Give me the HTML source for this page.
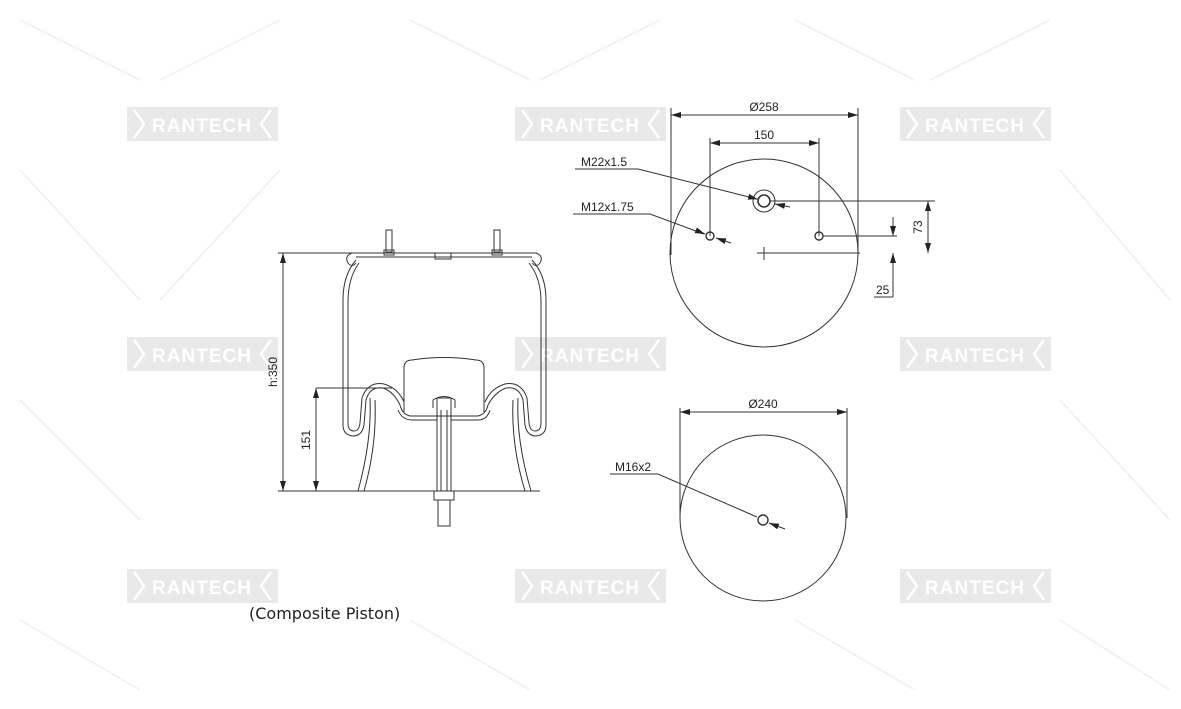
<!DOCTYPE html>
<html><head><style>
html,body{margin:0;padding:0;background:#fff}
svg{display:block}
text{font-family:"Liberation Sans",Arial,sans-serif;fill:#222}
</style></head><body>
<svg width="1181" height="709" viewBox="0 0 1181 709">
<defs>
<g id="wm">
<rect x="0" y="0" width="151" height="34" fill="#e9e9e9"/>
<polyline points="7,3 17,17 7,31" fill="none" stroke="#fff" stroke-width="2.5"/>
<polyline points="144,3 134,17 144,31" fill="none" stroke="#fff" stroke-width="2.5"/>
<text x="75" y="25" text-anchor="middle" font-size="19" font-weight="bold" style="fill:#fff;letter-spacing:1px">RANTECH</text>
</g>
<marker id="a" viewBox="0 0 10 6" refX="10" refY="3" markerWidth="10" markerHeight="6" orient="auto-start-reverse" markerUnits="userSpaceOnUse"><path d="M0,0 L10,3 L0,6z" fill="#222"/></marker>
</defs>
<!-- faint background diagonal lines -->
<g stroke="#f2f2f2" stroke-width="2">
<line x1="20" y1="20" x2="140" y2="80"/><line x1="280" y1="20" x2="160" y2="80"/>
<line x1="410" y1="20" x2="530" y2="80"/><line x1="660" y1="20" x2="540" y2="80"/>
<line x1="795" y1="20" x2="915" y2="80"/><line x1="1050" y1="20" x2="930" y2="80"/>
<line x1="20" y1="170" x2="140" y2="300"/><line x1="280" y1="170" x2="160" y2="300"/>
<line x1="1060" y1="170" x2="1170" y2="300"/><line x1="20" y1="400" x2="140" y2="520"/>
<line x1="1060" y1="400" x2="1170" y2="520"/><line x1="20" y1="620" x2="140" y2="690"/>
<line x1="410" y1="620" x2="530" y2="690"/><line x1="795" y1="620" x2="915" y2="690"/>
<line x1="1060" y1="620" x2="1170" y2="690"/>
</g>
<use href="#wm" x="127" y="107"/><use href="#wm" x="515" y="107"/><use href="#wm" x="900" y="107"/>
<use href="#wm" x="127" y="337"/><use href="#wm" x="515" y="337"/><use href="#wm" x="900" y="337"/>
<use href="#wm" x="127" y="569"/><use href="#wm" x="515" y="569"/><use href="#wm" x="900" y="569"/>

<g fill="none" stroke="#333" stroke-width="1">
<!-- left drawing: top plate -->
<path d="M352,253 L536,253 Q544,256 540,263 Q536,268 532,263 M352,253 Q344,256 348,263 Q352,268 356,263"/>
<path d="M356,257 L532,257"/>
<rect x="386" y="230" width="6" height="22"/><rect x="384" y="250" width="10" height="5"/>
<rect x="494" y="230" width="6" height="22"/><rect x="492" y="250" width="10" height="5"/>
<rect x="435" y="253" width="16" height="6"/>
<!-- bellow outer -->
<path d="M356,260 Q343,275 343,300 L343,425 Q343,435 353,436 Q362,436 364,425 L366,400 Q370,386 383,388 Q394,392 400,405"/>
<path d="M359,263 Q348,278 348,302 L348,423 Q348,431 354,431 Q359,431 360,423 L362,398 Q368,381 384,384 Q398,388 404,402"/>
<path d="M532,260 Q546,275 546,300 L546,425 Q546,435 536,436 Q527,436 525,425 L523,400 Q519,386 506,388 Q495,392 488,405"/>
<path d="M529,263 Q541,278 541,302 L541,423 Q541,431 535,431 Q530,431 529,423 L527,398 Q521,381 505,384 Q491,388 485,402"/>
<!-- piston cap -->
<path d="M404,412 L404,368 Q404,360 412,360 Q444,355 476,360 Q484,360 484,368 L484,412"/>
<path d="M400,405 Q402,414 410,416 L478,416 Q486,414 488,405"/>
<path d="M398,410 Q402,420 412,420 L437,420 M451,420 L478,420 Q487,420 490,410"/>
<path d="M316,388 L392,388"/>
<!-- piston skirt -->
<path d="M370,398 Q372,440 358,491"/><path d="M375,400 Q377,445 364,491"/>
<path d="M518,398 Q516,440 531,491"/><path d="M513,400 Q511,445 525,491"/>
<!-- rod -->
<rect x="437" y="398" width="14" height="93"/><line x1="441" y1="410" x2="441" y2="491"/><line x1="447" y1="410" x2="447" y2="491"/>
<path d="M433,408 L433,400 Q444,393 455,400 L455,408"/>
<rect x="434" y="491" width="20" height="9"/><rect x="438" y="500" width="12" height="26"/>
<!-- dims -->
<line x1="278" y1="253" x2="352" y2="253"/><line x1="278" y1="491" x2="540" y2="491"/>
<line x1="283" y1="253" x2="283" y2="491" marker-start="url(#a)" marker-end="url(#a)"/>
<line x1="316" y1="388" x2="316" y2="491" marker-start="url(#a)" marker-end="url(#a)"/>

<!-- top circle -->
<circle cx="764" cy="253" r="94"/>
<circle cx="764" cy="201" r="11"/><circle cx="764" cy="201" r="6" stroke-width="1.6"/>
<circle cx="710" cy="236" r="4" stroke-width="1.4"/><circle cx="819" cy="236" r="4" stroke-width="1.4"/>
<line x1="757" y1="253" x2="860" y2="253"/><line x1="764" y1="247" x2="764" y2="260"/>
<line x1="671" y1="108" x2="671" y2="255"/><line x1="858" y1="108" x2="858" y2="255"/>
<line x1="671" y1="115" x2="858" y2="115" marker-start="url(#a)" marker-end="url(#a)"/>
<line x1="710" y1="138" x2="710" y2="236"/><line x1="819" y1="138" x2="819" y2="236"/>
<line x1="710" y1="143" x2="819" y2="143" marker-start="url(#a)" marker-end="url(#a)"/>
<line x1="770" y1="201" x2="935" y2="201"/><line x1="823" y1="236" x2="897" y2="236"/>
<line x1="928" y1="201" x2="928" y2="253" marker-start="url(#a)" marker-end="url(#a)"/>
<line x1="893" y1="217" x2="893" y2="236" marker-end="url(#a)"/>
<line x1="893" y1="297" x2="893" y2="253" marker-end="url(#a)"/>
<line x1="874" y1="297" x2="893" y2="297"/>
<polyline points="575,169 638,169 753,198"/><line x1="775" y1="204" x2="790" y2="207" marker-start="url(#a)"/>
<polyline points="573,214 650,214 704,234"/><line x1="716" y1="238" x2="731" y2="243" marker-start="url(#a)"/>
<path d="M753,198 l5,1.3" marker-end="url(#a)"/><path d="M700,232 l5,2" marker-end="url(#a)"/>

<!-- bottom circle -->
<circle cx="763" cy="518" r="83"/>
<circle cx="763" cy="520" r="5" stroke-width="1.4"/>
<line x1="680" y1="408" x2="680" y2="518"/><line x1="847" y1="408" x2="847" y2="518"/>
<line x1="680" y1="412" x2="847" y2="412" marker-start="url(#a)" marker-end="url(#a)"/>
<polyline points="610,474 658,474 757,517"/><line x1="769" y1="523" x2="785" y2="529" marker-start="url(#a)"/>
</g>

<g font-size="12">
<text x="277" y="372" transform="rotate(-90 277 372)" text-anchor="middle">h:350</text>
<text x="310" y="440" transform="rotate(-90 310 440)" text-anchor="middle">151</text>
<text x="764" y="111" text-anchor="middle">Ø258</text>
<text x="764" y="139" text-anchor="middle">150</text>
<text x="581" y="166">M22x1.5</text>
<text x="581" y="211">M12x1.75</text>
<text x="922" y="227" transform="rotate(-90 922 227)" text-anchor="middle">73</text>
<text x="876" y="294">25</text>
<text x="763" y="408" text-anchor="middle">Ø240</text>
<text x="615" y="471">M16x2</text>
</g>
<text x="249" y="619" font-size="16" style="font-family:'DejaVu Sans','Liberation Sans',sans-serif">(Composite Piston)</text>
</svg>
</body></html>
